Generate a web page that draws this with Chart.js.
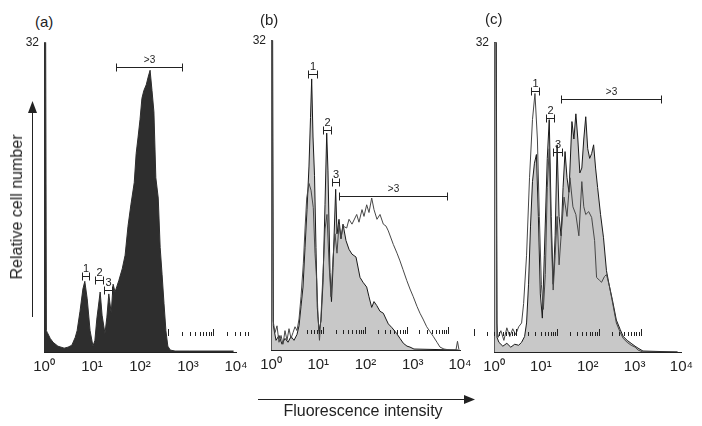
<!DOCTYPE html>
<html lang="en">
<head>
<meta charset="UTF-8">
<title>Relative cell number vs fluorescence intensity</title>
<script src="https://cdn.jsdelivr.net/npm/chart.js"></script>
<style>
  body { margin: 0; width: 702px; height: 426px; background: #fff; position: relative; overflow: hidden;
         font-family: "Liberation Sans", Arial, sans-serif; color: #222; }
  canvas { position: absolute; }
  .panel { position: absolute; font-size: 15px; line-height: 15px; }
  #ytitle { position: absolute; left: 17px; top: 207px; font-size: 16px; white-space: nowrap;
            transform: translate(-50%, -50%) rotate(-90deg); }
  #xtitle { position: absolute; left: 363px; top: 403px; font-size: 16px; line-height: 16px; white-space: nowrap;
            transform: translateX(-50%); }
  #arrows { position: absolute; left: 0; top: 0; }
</style>
</head>
<body>

<svg id="arrows" width="702" height="426">
  <line x1="32.5" y1="317" x2="32.5" y2="110" stroke="#222" stroke-width="1"/>
  <polygon points="28,113 37,113 32.5,101" fill="#222"/>
  <line x1="258" y1="399.5" x2="466" y2="399.5" stroke="#222" stroke-width="1"/>
  <polygon points="464,395 464,404 475,399.5" fill="#222"/>
</svg>

<canvas id="chartA" width="242" height="352" style="left:14px;top:30px"></canvas>
<canvas id="chartB" width="239" height="352" style="left:241px;top:28px"></canvas>
<canvas id="chartC" width="235" height="352" style="left:464px;top:30px"></canvas>

<div class="panel" style="left:35px;top:14px">(a)</div>
<div class="panel" style="left:260px;top:12px">(b)</div>
<div class="panel" style="left:485px;top:11px">(c)</div>
<div id="ytitle">Relative cell number</div>
<div id="xtitle">Fluorescence intensity</div>

<script>
    // x values are in decades (0 = 10^0 ... 4 = 10^4), y values in relative cell number
    const tickLabels = ['10⁰', '10¹', '10²', '10³', '10⁴'];
    const yTicks = [32];

    // panel (a): single dark histogram
    const aX = [0, 0, 0.035, 0.05, 0.07, 0.13, 0.19, 0.29, 0.42, 0.5, 0.58, 0.65, 0.69, 0.75, 0.81, 0.85, 0.9, 0.96, 1.02, 1.06,
                1.1, 1.17, 1.21, 1.27, 1.31, 1.35, 1.4, 1.44, 1.48, 1.52, 1.56, 1.63, 1.69, 1.75, 1.81, 1.88, 1.92, 1.96, 2.0, 2.04,
                2.08, 2.13, 2.17, 2.21, 2.25, 2.29, 2.33, 2.38, 2.42, 2.46, 2.5, 2.54, 2.58, 2.63, 2.73, 3.04, 3.95];
    const aY = [0, 32, 32, 2.2, 2.0, 1.4, 1.0, 0.6, 0.4, 0.5, 0.7, 1.5, 2.2, 4.2, 6.5, 7.3, 5.5, 2.2, 0.6, 1.2,
                3.4, 6.2, 3.8, 1.9, 3.6, 6.0, 4.0, 7.0, 6.2, 6.8, 7.4, 8.6, 10.0, 13.0, 15.2, 17.5, 20.5, 22.2, 24.0, 26.2,
                27.0, 27.6, 28.4, 29.1, 27.0, 24.8, 18.0, 15.9, 10.8, 8.0, 5.0, 2.2, 0.6, 0.2, 0.1, 0.1, 0.1];

    // panel (b): grey filled histogram + open histogram
    const bFillX = [0, 0, 0.035, 0.05, 0.106, 0.169, 0.233, 0.296, 0.36, 0.423, 0.487, 0.55, 0.593, 0.635, 0.677, 0.72, 0.762,
                    0.804, 0.836, 0.861, 0.889, 0.921, 0.952, 0.98, 1.016, 1.058, 1.101, 1.143, 1.179, 1.206, 1.249, 1.28, 1.312,
                    1.369, 1.397, 1.439, 1.481, 1.524, 1.587, 1.651, 1.714, 1.799, 1.884, 1.947, 2.025, 2.074, 2.131, 2.18,
                    2.237, 2.307, 2.377, 2.434, 2.483, 2.561, 2.66, 2.73, 2.8, 2.878, 2.942, 3.026, 3.958];
    const bFillY = [0, 32, 32, 2.5, 1.0, 1.5, 0.6, 1.2, 0.8, 1.4, 1.0, 1.6, 2.5, 4.5, 6.5, 10.6, 14.5,
                    19.0, 24.0, 28.0, 22.0, 18.0, 10.6, 4.4, 2.0, 3.0, 7.0, 15.0, 22.4, 18.5, 8.0, 5.0, 8.5,
                    16.6, 12.0, 13.5, 11.5, 13.0, 11.3, 10.4, 9.9, 9.6, 7.5, 7.0, 6.5, 5.5, 4.4, 5.0,
                    4.6, 4.0, 3.8, 3.2, 2.7, 2.3, 1.7, 1.2, 0.7, 0.4, 0.3, 0.1, 0];
    const bLineX = [0, 0, 0.025, 0.045, 0.085, 0.127, 0.169, 0.212, 0.254, 0.296, 0.339, 0.381, 0.423, 0.466, 0.508, 0.55, 0.593,
                    0.635, 0.684, 0.72, 0.756, 0.804, 0.847, 0.895, 0.931, 0.967, 0.995, 1.026, 1.058, 1.101, 1.143, 1.185, 1.228,
                    1.27, 1.312, 1.354, 1.397, 1.439, 1.481, 1.524, 1.602, 1.651, 1.714, 1.814, 1.862, 1.926, 1.968, 2.025, 2.074,
                    2.131, 2.18, 2.243, 2.307, 2.377, 2.434, 2.483, 2.589, 2.667, 2.73, 2.794, 2.872, 2.942, 3.011, 3.09, 3.153,
                    3.217, 3.295, 3.365, 3.435, 3.513, 3.577, 3.661, 3.788, 3.915, 3.947, 3.979];
    const bLineY = [0, 32, 32, 3.0, 1.8, 2.5, 0.8, 1.5, 0.6, 2.0, 1.0, 2.2, 1.2, 1.8, 2.4, 2.0, 3.2,
                    5.5, 8.9, 12.5, 15.7, 17.2, 16.5, 14.7, 10.0, 7.2, 3.5, 1.0, 3.5, 8.0, 12.5, 14.0, 9.0,
                    5.5, 9.5, 12.0, 10.0, 13.0, 11.5, 12.8, 12.6, 13.5, 13.0, 14.0, 13.2, 14.5, 13.8, 15.0, 14.2,
                    15.7, 14.5, 13.5, 14.0, 13.0, 12.8, 12.3, 10.9, 10.0, 9.2, 8.3, 7.2, 6.3, 5.5, 4.5, 3.8,
                    3.2, 2.4, 1.9, 1.4, 0.8, 0.3, 0.1, 0, 0, 0.9, 0];

    // panel (c): grey filled histogram + open histogram
    const cFillX = [0, 0, 0.05, 0.065, 0.105, 0.189, 0.274, 0.358, 0.442, 0.526, 0.589, 0.653, 0.695, 0.737, 0.779, 0.821,
                    0.863, 0.905, 0.947, 0.989, 1.032, 1.074, 1.137, 1.179, 1.221, 1.263, 1.305, 1.347, 1.389, 1.432, 1.474,
                    1.516, 1.558, 1.6, 1.663, 1.705, 1.747, 1.789, 1.832, 1.874, 1.916, 1.958, 2.0, 2.042, 2.084, 2.126,
                    2.168, 2.211, 2.274, 2.337, 2.4, 2.463, 2.526, 2.611, 2.695, 2.758, 2.842, 2.926, 3.011, 3.074, 3.179, 3.916];
    const cFillY = [0, 32, 32, 1.5, 1.0, 0.6, 0.9, 0.5, 0.8, 0.7, 1.0, 1.6, 3.0, 7.0, 13.0, 17.6,
                    19.5, 20.4, 14.0, 6.0, 3.5, 10.0, 20.0, 24.0, 14.0, 7.0, 12.0, 21.4, 14.0, 12.0, 17.0,
                    20.7, 18.0, 16.5, 23.8, 22.0, 24.6, 22.0, 18.5, 19.0, 22.0, 24.3, 21.0, 20.0, 20.5, 21.4,
                    19.0, 17.0, 14.2, 11.8, 8.4, 6.8, 5.4, 3.3, 2.3, 1.6, 1.2, 0.9, 0.6, 0.4, 0.1, 0];
    const cLineX = [0, 0, 0.04, 0.06, 0.084, 0.147, 0.211, 0.274, 0.337, 0.4, 0.463, 0.526, 0.589, 0.632, 0.695, 0.758,
                    0.821, 0.874, 0.926, 0.968, 1.011, 1.053, 1.095, 1.137, 1.179, 1.221, 1.263, 1.305, 1.347, 1.389, 1.432,
                    1.495, 1.558, 1.621, 1.684, 1.747, 1.811, 1.874, 1.916, 1.958, 2.021, 2.084, 2.147, 2.189, 2.253, 2.295,
                    2.358, 2.4, 2.463, 2.526, 2.611, 2.695, 2.758, 2.842, 2.926, 3.011, 3.074, 3.179, 3.916];
    const cLineY = [0, 32, 32, 3.0, 1.5, 2.2, 1.2, 2.5, 1.6, 2.4, 1.8, 2.6, 3.0, 5.0, 10.0, 18.0,
                    24.0, 26.7, 22.0, 14.0, 7.0, 4.4, 8.0, 17.0, 21.0, 12.0, 6.4, 10.0, 14.0, 9.0, 12.0,
                    16.0, 14.0, 18.0, 15.0, 14.2, 12.0, 17.6, 15.0, 14.2, 14.5, 13.9, 11.5, 7.7, 7.4, 7.2,
                    7.8, 8.0, 6.8, 5.2, 3.0, 2.0, 1.4, 1.0, 0.7, 0.5, 0.2, 0, 0];

    // division gates: name, range (decades) and height (cell number) per panel
    const gateNames = ['1', '2', '3', '>3'];
    const gateLoA = [0.785, 1.063, 1.25, 1.494];
    const gateHiA = [0.944, 1.235, 1.417, 2.869];
    const gateYA = [7.9, 7.4, 6.4, 29.4];
    const gateLoB = [0.777, 1.107, 1.285, 1.446];
    const gateHiB = [0.967, 1.27, 1.446, 3.731];
    const gateYB = [28.5, 22.7, 17.4, 15.9];
    const gateLoC = [0.794, 1.109, 1.269, 1.438];
    const gateHiC = [0.968, 1.284, 1.446, 3.564];
    const gateYC = [27.0, 24.2, 20.7, 26.1];

    // stray log-scale tick rows printed inside each panel
    const logSteps = [0.301, 0.477, 0.602, 0.699, 0.778, 0.845, 0.903, 0.954];
    const ruleMajA = [2.59, 3.527, 4.465];
    const ruleSpanA = [2.59, 4.27];
    const ruleMajB = [0.2245, 1.107, 1.989, 2.872, 3.753];
    const ruleSpanB = [0.75, 3.76];
    const ruleMajC = [-0.421, 0.463, 1.354, 2.242, 3.137];
    const ruleSpanC = [-0.43, 3.14];
    const ruleY = [1.7, 1.65, 1.65];

    const FONT = '"Liberation Sans", Arial, sans-serif';

    function pts(xs, ys) {
        return xs.map((x, i) => ({ x: x, y: ys[i] }));
    }

    // brackets over the gates and the tick rows, placed with the chart's scales
    function annotations(gLo, gHi, gY, majors, span, rowY) {
        return {
            id: 'annotations',
            afterDatasetsDraw(chart) {
                const ctx = chart.ctx, xs = chart.scales.x, ys = chart.scales.y;
                ctx.save();
                ctx.strokeStyle = '#222';
                ctx.fillStyle = '#222';
                ctx.lineWidth = 1;
                gateNames.forEach((name, i) => {
                    const x0 = Math.round(xs.getPixelForValue(gLo[i])) + 0.5;
                    const x1 = Math.round(xs.getPixelForValue(gHi[i])) + 0.5;
                    const yy = Math.round(ys.getPixelForValue(gY[i])) + 0.5;
                    ctx.beginPath();
                    ctx.moveTo(x0, yy); ctx.lineTo(x1, yy);
                    ctx.moveTo(x0, yy - 4); ctx.lineTo(x0, yy + 4);
                    ctx.moveTo(x1, yy - 4); ctx.lineTo(x1, yy + 4);
                    ctx.stroke();
                    ctx.font = (name.length > 1 ? '10px ' : '11px ') + FONT;
                    ctx.textAlign = 'center';
                    ctx.textBaseline = 'alphabetic';
                    ctx.fillText(name, (x0 + x1) / 2, yy - 5);
                });
                const step = majors[1] - majors[0];
                const yb = Math.round(ys.getPixelForValue(rowY));
                ctx.beginPath();
                majors.forEach(m => {
                    [0, ...logSteps].forEach((f, k) => {
                        const v = m + f * step;
                        if (v < span[0] - 1e-6 || v > span[1]) return;
                        const px = Math.round(xs.getPixelForValue(v)) + 0.5;
                        ctx.moveTo(px, yb);
                        ctx.lineTo(px, yb - (k === 0 ? 7 : 4));
                    });
                });
                ctx.stroke();
                ctx.restore();
            }
        };
    }

    function renderPanel(id, datasets, plugin) {
        const ctx = document.getElementById(id).getContext('2d');
        new Chart(ctx, {
            type: 'line',
            data: { datasets: datasets },
            options: {
                responsive: false,
                animation: false,
                events: [],
                layout: { padding: { left: 10, top: 10, right: id === 'chartC' ? 15 : 20, bottom: 0 } },
                elements: { point: { radius: 0 }, line: { tension: 0 } },
                plugins: { legend: { display: false }, tooltip: { enabled: false } },
                scales: {
                    x: {
                        type: 'linear', min: 0, max: 4,
                        grid: { display: false, drawTicks: false },
                        border: { display: true, color: '#222', width: 1 },
                        afterBuildTicks: ax => { ax.ticks = tickLabels.map((t, i) => ({ value: i })); },
                        afterFit: ax => { ax.height = 30; },
                        ticks: {
                            callback: v => tickLabels[v],
                            font: { family: FONT, size: 15 },
                            color: '#222', padding: 6, maxRotation: 0, autoSkip: false
                        }
                    },
                    y: {
                        min: 0, max: 32,
                        grid: { display: false, drawTicks: false },
                        border: { display: false },
                        afterBuildTicks: ax => { ax.ticks = yTicks.map(v => ({ value: v })); },
                        afterFit: ax => { ax.width = 20; },
                        ticks: { font: { family: FONT, size: 12 }, color: '#222', padding: 5 }
                    }
                }
            },
            plugins: [plugin]
        });
    }

    renderPanel('chartA', [
        { data: pts(aX, aY), borderColor: '#2e2e2e', backgroundColor: '#2e2e2e', borderWidth: 1, fill: 'origin' }
    ], annotations(gateLoA, gateHiA, gateYA, ruleMajA, ruleSpanA, ruleY[0]));

    renderPanel('chartB', [
        { data: pts(bLineX, bLineY), borderColor: '#474747', borderWidth: 1, fill: false, order: 0 },
        { data: pts(bFillX, bFillY), borderColor: '#1a1a1a', backgroundColor: '#c8c8c8', borderWidth: 1, fill: 'origin', order: 1 }
    ], annotations(gateLoB, gateHiB, gateYB, ruleMajB, ruleSpanB, ruleY[1]));

    renderPanel('chartC', [
        { data: pts(cLineX, cLineY), borderColor: '#474747', borderWidth: 1, fill: false, order: 0 },
        { data: pts(cFillX, cFillY), borderColor: '#1a1a1a', backgroundColor: '#c8c8c8', borderWidth: 1, fill: 'origin', order: 1 }
    ], annotations(gateLoC, gateHiC, gateYC, ruleMajC, ruleSpanC, ruleY[2]));
</script>

</body>
</html>
